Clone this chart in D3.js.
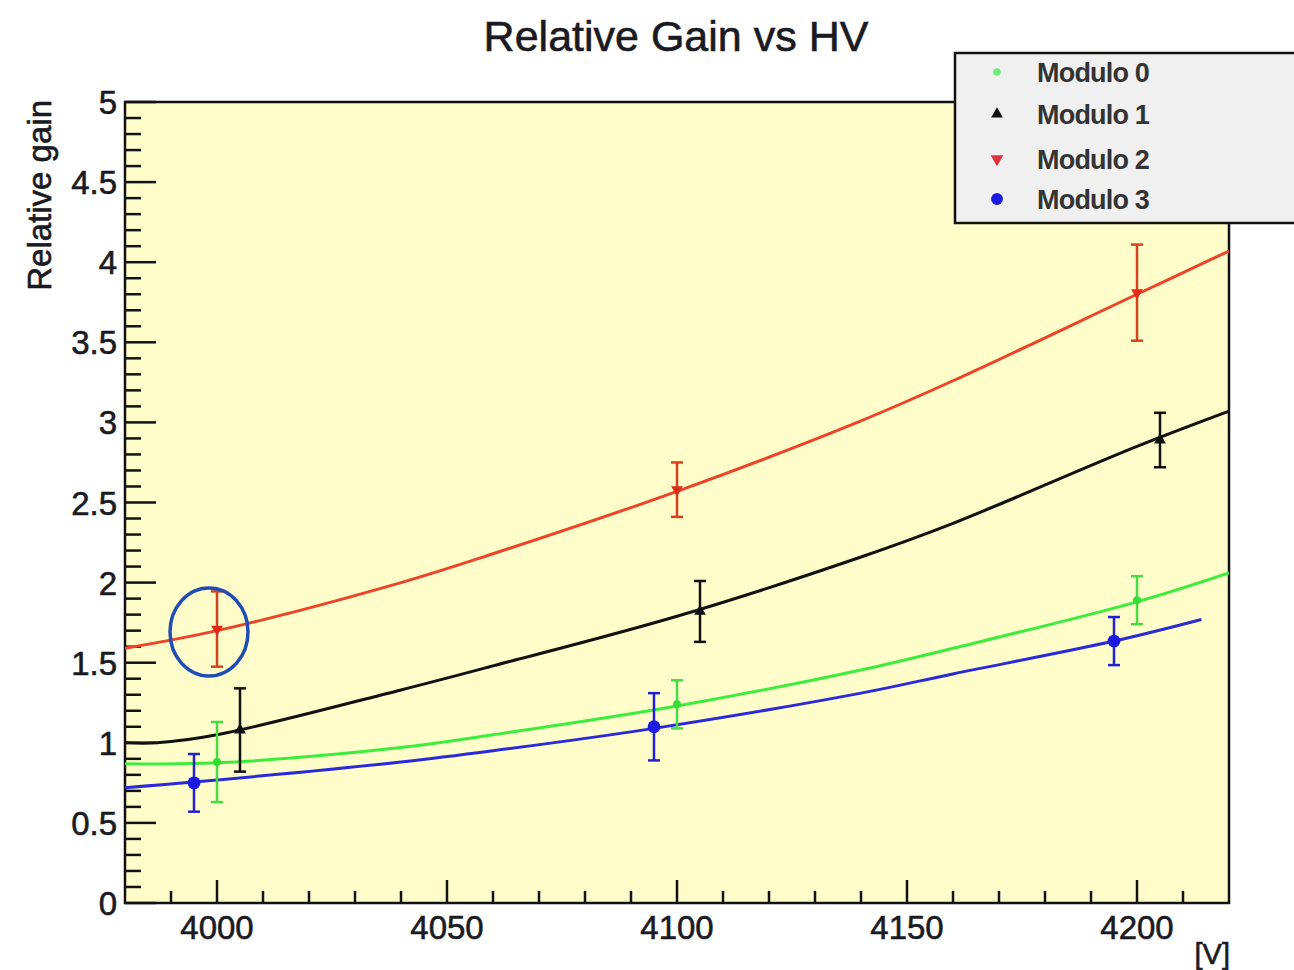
<!DOCTYPE html>
<html>
<head>
<meta charset="utf-8">
<script src="https://cdnjs.cloudflare.com/ajax/libs/d3/7.8.5/d3.min.js"></script>
<style>
  body { margin: 0; background: #fff; }
  text { font-family: "Liberation Sans", Arial, sans-serif; fill: #1a1a22; stroke: #1a1a22; stroke-width: 0.6px; }
</style>
</head>
<body>
<svg id="chart" width="1294" height="970"></svg>
<script>
// measured points (HV, gain, error)
const modules = ["Modulo 0", "Modulo 1", "Modulo 2", "Modulo 3"];
const hv0 = [4000, 4100, 4200];
const gain0 = [0.88, 1.24, 1.89];
const err0 = [0.25, 0.15, 0.15];
const hv1 = [4005, 4105, 4205];
const gain1 = [1.08, 1.82, 2.89];
const err1 = [0.26, 0.19, 0.17];
const hv2 = [4000, 4100, 4200];
const gain2 = [1.71, 2.58, 3.81];
const err2 = [0.235, 0.17, 0.30];
const hv3 = [3995, 4095, 4195];
const gain3 = [0.75, 1.10, 1.635];
const err3 = [0.18, 0.21, 0.15];

// fit curves
const fitHv0 = [3980, 4000, 4040, 4060, 4100, 4140, 4160, 4200, 4220];
const fitGain0 = [0.87, 0.875, 0.97, 1.05, 1.23, 1.455, 1.59, 1.88, 2.06];
const fitHv1 = [3980, 3987, 4000, 4040, 4060, 4100, 4140, 4160, 4200, 4220];
const fitGain1 = [1.00, 1.00, 1.05, 1.33, 1.48, 1.79, 2.16, 2.37, 2.85, 3.07];
const fitHv2 = [3980, 4000, 4040, 4060, 4100, 4140, 4160, 4200, 4220];
const fitGain2 = [1.59, 1.70, 2.00, 2.18, 2.57, 3.01, 3.26, 3.80, 4.07];
const fitHv3 = [3980, 3995, 4040, 4060, 4095, 4140, 4160, 4195, 4214];
const fitGain3 = [0.72, 0.755, 0.88, 0.95, 1.09, 1.31, 1.43, 1.635, 1.77];

const xTicks = [4000, 4050, 4100, 4150, 4200];
const yTicks = [0, 0.5, 1, 1.5, 2, 2.5, 3, 3.5, 4, 4.5, 5];

const colors = ["#3ded3d", "#111111", "#ef4329", "#2a2ad6"];
const barColors = ["#44dd44", "#111111", "#d8401f", "#2222cc"];
const markColors = ["#33dd33", "#111111", "#e02a1a", "#1a1ae0"];
const symbols = [d3.symbolCircle, d3.symbolTriangle, d3.symbolTriangle, d3.symbolCircle];
const symSize = [50, 60, 60, 130];
const legSize = [45, 60, 70, 110];

const series = [
  { hv: hv0, gain: gain0, err: err0, fhv: fitHv0, fg: fitGain0 },
  { hv: hv1, gain: gain1, err: err1, fhv: fitHv1, fg: fitGain1 },
  { hv: hv2, gain: gain2, err: err2, fhv: fitHv2, fg: fitGain2 },
  { hv: hv3, gain: gain3, err: err3, fhv: fitHv3, fg: fitGain3 }
];

const frame = { left: 125, right: 1229, top: 102, bottom: 903 };

const svg = d3.select("#chart");

const x = d3.scaleLinear().domain([3980, 4220]).range([frame.left, frame.right]);
const y = d3.scaleLinear().domain([0, 5]).range([frame.bottom, frame.top]);

// plot area
svg.append("rect")
  .attr("x", frame.left).attr("y", frame.top)
  .attr("width", frame.right - frame.left)
  .attr("height", frame.bottom - frame.top)
  .attr("fill", "#fffdca")
  .attr("stroke", "#111").attr("stroke-width", 2.5);

// y axis ticks
const yMinor = d3.range(0, 5.001, 0.1);
svg.append("g").selectAll("line")
  .data(yMinor)
  .join("line")
  .attr("x1", frame.left)
  .attr("x2", d => Math.abs(d * 2 - Math.round(d * 2)) < 1e-6 ? frame.left + 31 : frame.left + 16)
  .attr("y1", d => y(d)).attr("y2", d => y(d))
  .attr("stroke", "#111").attr("stroke-width", 2.5);

svg.append("g").selectAll("text")
  .data(yTicks)
  .join("text")
  .attr("x", 117)
  .attr("y", d => y(d) + 12)
  .attr("text-anchor", "end")
  .style("font-size", "33px")
  .text(d => d);

// x axis ticks
const xMinor = d3.range(3990, 4220, 10);
svg.append("g").selectAll("line")
  .data(xMinor)
  .join("line")
  .attr("x1", d => x(d)).attr("x2", d => x(d))
  .attr("y1", frame.bottom)
  .attr("y2", d => d % 50 === 0 ? frame.bottom - 23 : frame.bottom - 12)
  .attr("stroke", "#111").attr("stroke-width", 2.5);

svg.append("g").selectAll("text")
  .data(xTicks)
  .join("text")
  .attr("x", d => x(d))
  .attr("y", 939)
  .attr("text-anchor", "middle")
  .style("font-size", "33px")
  .text(d => d);

svg.append("text")
  .attr("x", 1230).attr("y", 964)
  .attr("text-anchor", "end")
  .style("font-size", "29px")
  .text("[V]");

// axis title
svg.append("text")
  .attr("transform", "translate(51,100) rotate(-90)")
  .attr("text-anchor", "end")
  .style("font-size", "33px")
  .text("Relative gain");

// title
svg.append("text")
  .attr("x", 676).attr("y", 51)
  .attr("text-anchor", "middle")
  .style("font-size", "43px")
  .text("Relative Gain vs HV");

// clip for curves
svg.append("clipPath").attr("id", "plot-clip")
  .append("rect")
  .attr("x", frame.left).attr("y", frame.top)
  .attr("width", frame.right - frame.left)
  .attr("height", frame.bottom - frame.top);

const plot = svg.append("g").attr("clip-path", "url(#plot-clip)");

const line = d3.line()
  .x(d => x(d[0]))
  .y(d => y(d[1]))
  .curve(d3.curveCatmullRom.alpha(0.5));

series.forEach((s, i) => {
  plot.append("path")
    .datum(s.fhv.map((h, j) => [h, s.fg[j]]))
    .attr("fill", "none")
    .attr("stroke", colors[i])
    .attr("stroke-width", 3)
    .attr("d", line);
});

// error bars and markers
series.forEach((s, i) => {
  const pts = s.hv.map((h, j) => ({ hv: h, g: s.gain[j], e: s.err[j] }));
  const g = plot.append("g").attr("stroke", barColors[i]).attr("stroke-width", 2.5);
  g.selectAll(".bar").data(pts).join("line")
    .attr("x1", d => x(d.hv)).attr("x2", d => x(d.hv))
    .attr("y1", d => y(d.g - d.e)).attr("y2", d => y(d.g + d.e));
  g.selectAll(".capTop").data(pts).join("line")
    .attr("x1", d => x(d.hv) - 6).attr("x2", d => x(d.hv) + 6)
    .attr("y1", d => y(d.g + d.e)).attr("y2", d => y(d.g + d.e));
  g.selectAll(".capBot").data(pts).join("line")
    .attr("x1", d => x(d.hv) - 6).attr("x2", d => x(d.hv) + 6)
    .attr("y1", d => y(d.g - d.e)).attr("y2", d => y(d.g - d.e));
  plot.append("g").selectAll("path").data(pts).join("path")
    .attr("transform", d => `translate(${x(d.hv)},${y(d.g)})${i === 2 ? " rotate(180)" : ""}`)
    .attr("d", d3.symbol().type(symbols[i]).size(symSize[i]))
    .attr("fill", markColors[i]);
});

// annotation ellipse around Modulo 2 first point
svg.append("ellipse")
  .attr("cx", x(hv2[0]) - 8).attr("cy", y(gain2[0]) + 3)
  .attr("rx", 39).attr("ry", 44)
  .attr("fill", "none")
  .attr("stroke", "#1f4db3")
  .attr("stroke-width", 3.5);

// legend
const legend = svg.append("g");
legend.append("rect")
  .attr("x", 955).attr("y", 53)
  .attr("width", 345).attr("height", 170)
  .attr("fill", "#f0f0f0")
  .attr("stroke", "#111").attr("stroke-width", 2.5);

const legRows = [72, 114, 159, 199];
modules.forEach((m, i) => {
  legend.append("path")
    .attr("transform", `translate(997,${legRows[i]})${i === 2 ? " rotate(180)" : ""}`)
    .attr("d", d3.symbol().type(symbols[i]).size(legSize[i]))
    .attr("fill", i === 0 ? "#66ee77" : (i === 2 ? "#e03040" : markColors[i]));
  legend.append("text")
    .attr("x", 1037).attr("y", legRows[i] + 10)
    .style("font-size", "27px")
    .style("font-weight", "bold")
    .style("letter-spacing", "-0.8px")
    .style("fill", "#333")
    .style("stroke", "none")
    .text(m);
});
</script>
</body>
</html>
